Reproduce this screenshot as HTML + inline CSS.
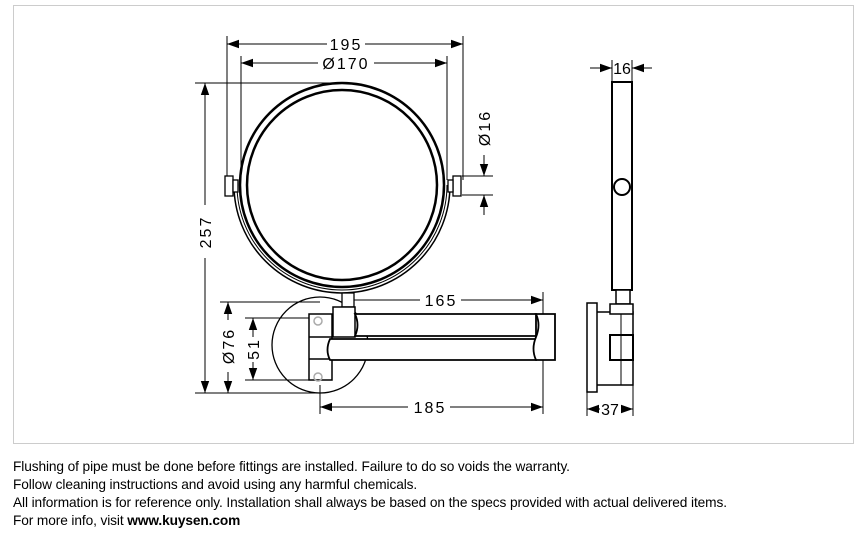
<!DOCTYPE html>
<html><head><style>
body{margin:0;width:863px;height:539px;background:#fff;overflow:hidden;font-family:"Liberation Sans",sans-serif}
.t{position:absolute;left:13px;font-size:13.7px;color:#000;white-space:nowrap;letter-spacing:-0.1px}
</style></head><body>
<svg width="863" height="539" style="position:absolute;left:0;top:0">
<defs>
<marker id="a" viewBox="0 0 10 10" refX="10" refY="5" markerWidth="12" markerHeight="12" markerUnits="userSpaceOnUse" orient="auto-start-reverse"><path d="M0,1.5L10,5L0,8.5z" fill="#000"/></marker>
</defs>
<rect x="13.5" y="5.5" width="840" height="438" fill="none" stroke="#ccc"/>
<g stroke="#000" fill="none" stroke-width="1">
<line x1="227" y1="36" x2="227" y2="180"/>
<line x1="463" y1="36" x2="463" y2="180"/>
<line x1="241" y1="56" x2="241" y2="180"/>
<line x1="447" y1="56" x2="447" y2="180"/>
<line x1="195" y1="83" x2="342" y2="83"/>
<line x1="195" y1="393" x2="320" y2="393"/>
<line x1="462" y1="176" x2="493" y2="176"/>
<line x1="462" y1="195" x2="493" y2="195"/>
<line x1="220" y1="302" x2="320" y2="302"/>
<line x1="245" y1="318" x2="318" y2="318"/>
<line x1="245" y1="380" x2="318" y2="380"/>
<line x1="543" y1="292" x2="543" y2="414"/>
<line x1="320" y1="385" x2="320" y2="414"/>
<line x1="612" y1="60" x2="612" y2="82"/>
<line x1="632" y1="60" x2="632" y2="82"/>
<line x1="587" y1="392" x2="587" y2="416"/>
<line x1="633" y1="385" x2="633" y2="416"/>
<line x1="227" y1="44" x2="327" y2="44" marker-start="url(#a)"/><line x1="365" y1="44" x2="463" y2="44" marker-end="url(#a)"/>
<line x1="241" y1="63" x2="318" y2="63" marker-start="url(#a)"/><line x1="374" y1="63" x2="447" y2="63" marker-end="url(#a)"/>
<line x1="205" y1="83" x2="205" y2="205" marker-start="url(#a)"/><line x1="205" y1="258" x2="205" y2="393" marker-end="url(#a)"/>
<line x1="484" y1="155" x2="484" y2="176" marker-end="url(#a)"/><line x1="484" y1="215" x2="484" y2="195" marker-end="url(#a)"/>
<line x1="228" y1="302" x2="228" y2="320" marker-start="url(#a)"/><line x1="228" y1="372" x2="228" y2="393" marker-end="url(#a)"/>
<line x1="253" y1="318" x2="253" y2="337" marker-start="url(#a)"/><line x1="253" y1="362" x2="253" y2="380" marker-end="url(#a)"/>
<line x1="350" y1="300" x2="420" y2="300"/><line x1="461" y1="300" x2="543" y2="300" marker-end="url(#a)"/>
<line x1="320" y1="407" x2="408" y2="407" marker-start="url(#a)"/><line x1="450" y1="407" x2="543" y2="407" marker-end="url(#a)"/>
<line x1="590" y1="68" x2="612" y2="68" marker-end="url(#a)"/><line x1="652" y1="68" x2="632" y2="68" marker-end="url(#a)"/>
<line x1="587" y1="409" x2="600" y2="409" marker-start="url(#a)"/><line x1="621" y1="409" x2="633" y2="409" marker-end="url(#a)"/>
</g>
<g stroke="#000" fill="none">
<circle cx="342" cy="185" r="102" stroke-width="2.5"/>
<circle cx="342" cy="185" r="95" stroke-width="2.5"/>
<path d="M234,185 A108,108 0 0 0 450,185" stroke-width="1.5"/>
<path d="M237,185 A105,105 0 0 0 447,185" stroke-width="1"/>
<rect x="225" y="176" width="8" height="20" stroke-width="1.3" fill="#fff"/>
<rect x="233" y="180" width="5" height="12" stroke-width="1.3" fill="#fff"/>
<rect x="453" y="176" width="8" height="20" stroke-width="1.3" fill="#fff"/>
<rect x="448" y="180" width="5" height="12" stroke-width="1.3" fill="#fff"/>
<circle cx="320" cy="345" r="48" stroke-width="1.3"/>
<rect x="342" y="293" width="12" height="14" stroke-width="1.3" fill="#fff"/>
<rect x="333" y="307" width="22" height="30" stroke-width="1.5" fill="#fff"/>
<rect x="309" y="314" width="23" height="66" stroke-width="1.5" fill="#fff"/>
<line x1="309" y1="337" x2="332" y2="337" stroke-width="1.5"/>
<line x1="309" y1="359" x2="332" y2="359" stroke-width="1.5"/>
<path d="M355,314 H536 V336 H355 Q360,325 355,314 Z" stroke-width="1.8" fill="#fff"/>
<path d="M330,339 H536 V360 H330 Q325,350 330,339 Z" stroke-width="1.8" fill="#fff"/>
<path d="M536,314 H555 V360 H536 Q531,349 536,337 Q541,325 536,314 Z" stroke-width="1.8" fill="#fff"/>
<circle cx="318" cy="321" r="4" stroke="#aaa" stroke-width="1.5"/>
<circle cx="318" cy="377" r="4" stroke="#aaa" stroke-width="1.5"/>
<rect x="612" y="82" width="20" height="208" stroke-width="2" fill="#fff"/>
<circle cx="622" cy="187" r="8" stroke-width="2" fill="#fff"/>
<rect x="616" y="290" width="14" height="14" stroke-width="1.5" fill="#fff"/>
<rect x="587" y="303" width="10" height="89" stroke-width="1.5" fill="#fff"/>
<path d="M597,312 H633 V385 H597" stroke-width="1.5"/>
<rect x="610" y="304" width="23" height="10" stroke-width="1.5" fill="#fff"/>
<rect x="610" y="335" width="23" height="25" stroke-width="2" fill="#fff"/>
<line x1="621" y1="314" x2="621" y2="385" stroke-width="1"/>
</g>
<g font-family="Liberation Sans,sans-serif" font-size="16" fill="#000" letter-spacing="2">
<text x="346" y="50" text-anchor="middle">195</text>
<text x="346" y="69" text-anchor="middle">Ø170</text>
<text x="441" y="306" text-anchor="middle">165</text>
<text x="430" y="413" text-anchor="middle">185</text>
<text transform="translate(211,232) rotate(-90)" text-anchor="middle">257</text>
<text transform="translate(490,128) rotate(-90)" text-anchor="middle">Ø16</text>
<text transform="translate(234,346) rotate(-90)" text-anchor="middle">Ø76</text>
<text transform="translate(259,349) rotate(-90)" text-anchor="middle">51</text>
<text x="622" y="74" text-anchor="middle" letter-spacing="0">16</text>
<text x="610" y="415" text-anchor="middle" letter-spacing="0">37</text>
</g>
</svg>
<div class="t" style="top:459px">Flushing of pipe must be done before fittings are installed. Failure to do so voids the warranty.</div>
<div class="t" style="top:477px">Follow cleaning instructions and avoid using any harmful chemicals.</div>
<div class="t" style="top:495px">All information is for reference only. Installation shall always be based on the specs provided with actual delivered items.</div>
<div class="t" style="top:513px">For more info, visit <b>www.kuysen.com</b></div>
</body></html>
